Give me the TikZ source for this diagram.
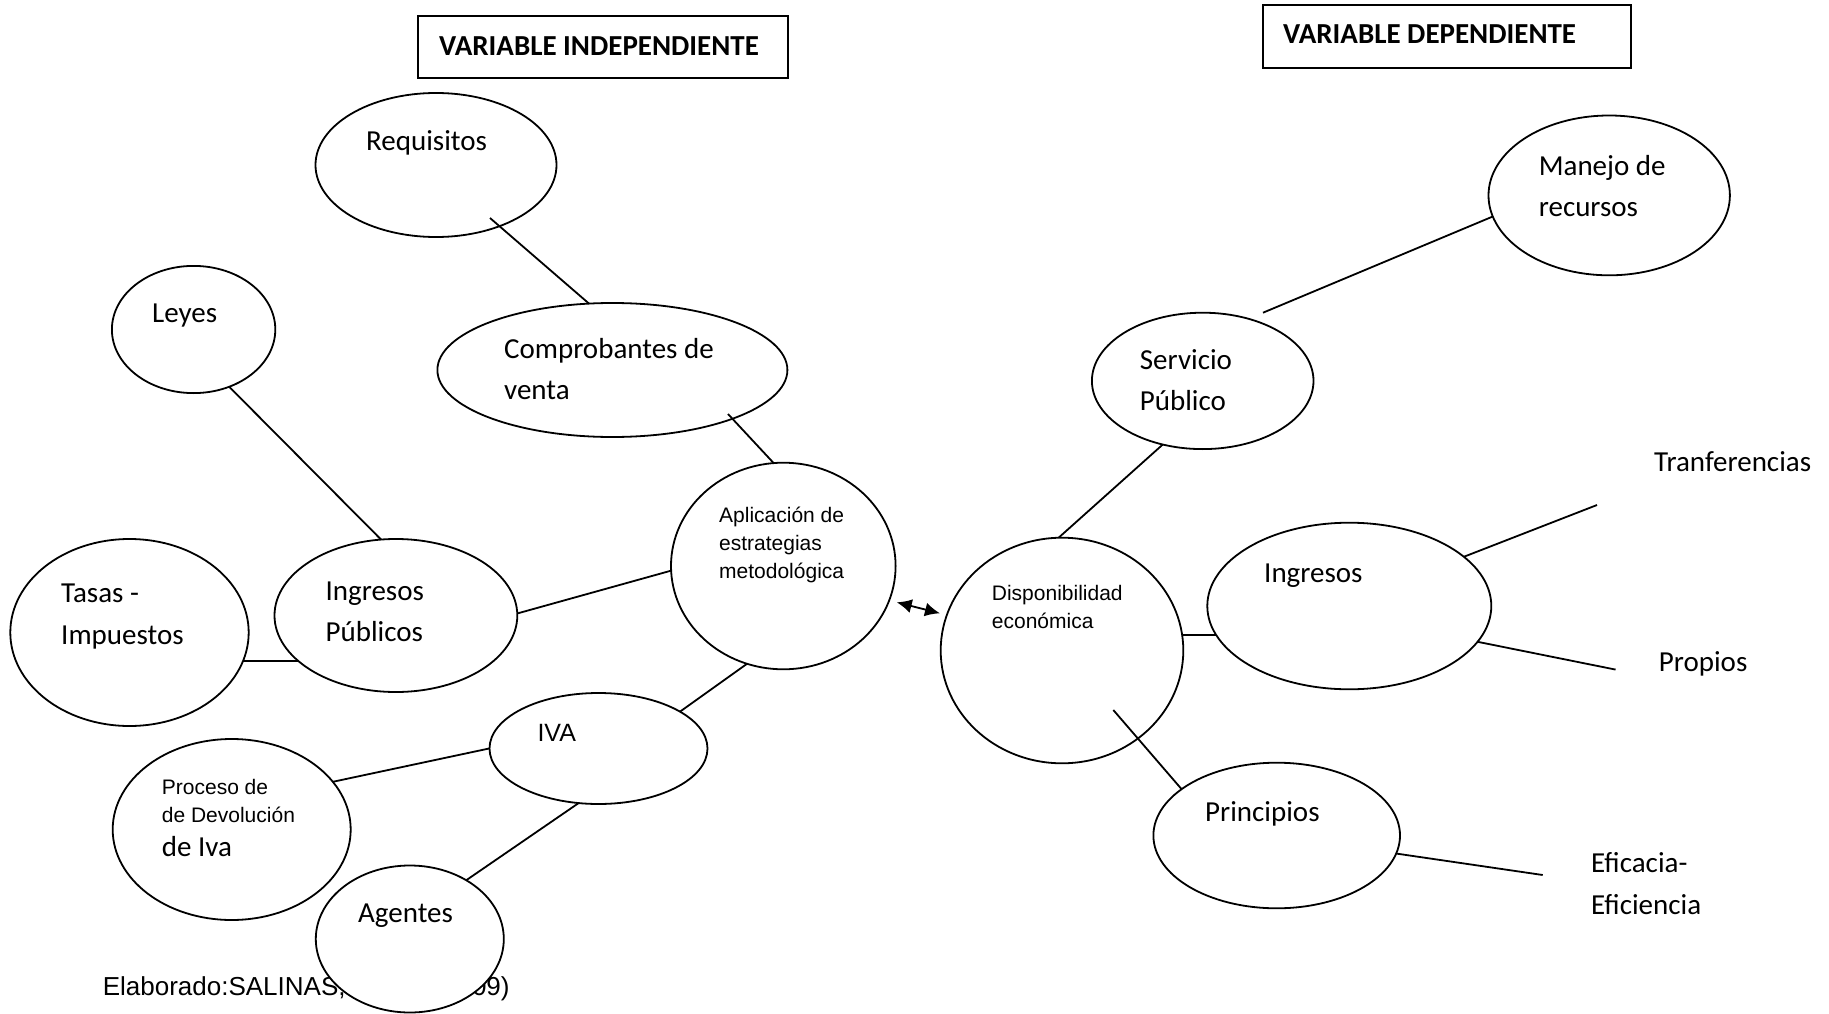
\documentclass[tikz,border=0pt]{standalone}
\usepackage{fontspec}
\setmainfont{Carlito}
\newfontfamily\arialf{Liberation Sans}
\usetikzlibrary{shapes.geometric,arrows.meta}

\begin{document}
\begin{tikzpicture}[x=1pt,y=-1pt,
  bubble/.style={draw, ellipse, fill=white, line width=1.8pt, inner sep=0pt},
  cal/.style={anchor=base west, inner sep=0pt, align=left, font=\fontsize{29}{41.5}\selectfont},
  ari/.style={anchor=base west, inner sep=0pt, align=left, font=\arialf\fontsize{21}{28}\selectfont},
  link/.style={line width=1.8pt},
  behind/.style={link, shorten <=-12pt, shorten >=-12pt},
  tail/.style={link, shorten <=-15pt},
  titlebox/.style={draw, line width=1.6pt, inner sep=0pt},
  titletext/.style={anchor=base west, inner sep=0pt, font=\bfseries\fontsize{29}{35}\selectfont},
]
\useasboundingbox (0,0) rectangle (1829,1014);

% source note, partly hidden by the "Agentes" bubble
\node[ari, font=\arialf\fontsize{26}{30}\selectfont] (srcA) at (102.6,995) {Elaborado:SALINAS,};
\node[anchor=base east, inner sep=0pt, font=\arialf\fontsize{26}{30}\selectfont] (srcB) at (509.8,995) {09)};

% connector end points
\coordinate (l1a) at (232,389.6);   \coordinate (l1b) at (380.5,539);
\coordinate (l2a) at (516.8,613.6); \coordinate (l2b) at (672,570.4);
\coordinate (l3a) at (248.6,661);   \coordinate (l3b) at (299.6,661);
\coordinate (l4a) at (739.3,669.3); \coordinate (l4b) at (683.3,709.3);
\coordinate (l5a) at (490,748.3);   \coordinate (l5b) at (333.3,781.7);
\coordinate (l6a) at (578.3,803.3); \coordinate (l6b) at (472.4,876);
\coordinate (l7a) at (1488.5,218.3);\coordinate (l7b) at (1263,312.7);
\coordinate (l8a) at (1160,447);    \coordinate (l8b) at (1058.3,538);
\coordinate (l9a) at (1182.7,635);  \coordinate (l9b) at (1208.3,635);
\coordinate (t1a) at (1471,554);    \coordinate (t1b) at (1597,505);
\coordinate (t2a) at (1488.5,644);  \coordinate (t2b) at (1615.6,669.6);
\coordinate (t3a) at (1399.3,854);  \coordinate (t3b) at (1542.7,875);
\coordinate (f1a) at (490,218);     \coordinate (f1b) at (589,303.6);
\coordinate (f2a) at (728,414);     \coordinate (f2b) at (773.3,462.7);
\coordinate (f3a) at (1113.3,710);  \coordinate (f3b) at (1181.7,789.3);
\coordinate (arrA) at (896.7,602.3);\coordinate (arrB) at (940,613.3);

% connectors that meet the bubble outlines
\draw[behind] (l1a) -- (l1b);
\draw[behind] (l2a) -- (l2b);
\draw[behind] (l3a) -- (l3b);
\draw[behind] (l4a) -- (l4b);
\draw[behind] (l5a) -- (l5b);
\draw[behind] (l6a) -- (l6b);
\draw[tail] (l7a) -- (l7b);
\draw[behind] (l8a) -- (l8b);
\draw[behind] (l9a) -- (l9b);
\draw[tail] (t1a) -- (t1b);
\draw[tail] (t2a) -- (t2b);
\draw[tail] (t3a) -- (t3b);

% bubbles
\node[bubble, minimum width=241pt, minimum height=144pt] (req) at (436,165) {};
\node[bubble, minimum width=163.4pt, minimum height=127.2pt] (leyes) at (193.6,329.5) {};
\node[bubble, minimum width=350pt, minimum height=134pt] (comp) at (612.4,370) {};
\node[bubble, minimum width=224.6pt, minimum height=206.6pt] (aplic) at (783.3,566) {};
\node[bubble, minimum width=242.8pt, minimum height=153pt] (ingpub) at (395.9,615.5) {};
\node[bubble, minimum width=238.4pt, minimum height=187pt] (tasas) at (129.5,632.5) {};
\node[bubble, minimum width=218pt, minimum height=111pt] (iva) at (598.5,748.5) {};
\node[bubble, minimum width=238pt, minimum height=181pt] (proc) at (231.7,829.5) {};
\node[bubble, minimum width=188pt, minimum height=147pt] (agentes) at (409.8,939) {};
\node[bubble, minimum width=241.4pt, minimum height=159.8pt] (manejo) at (1609.2,195.4) {};
\node[bubble, minimum width=221.6pt, minimum height=136.4pt] (serv) at (1202.7,380.9) {};
\node[bubble, minimum width=242.6pt, minimum height=225.6pt] (disp) at (1062,650.5) {};
\node[bubble, minimum width=284pt, minimum height=166.6pt] (ingr) at (1349.3,606) {};
\node[bubble, minimum width=246.6pt, minimum height=145.6pt] (princ) at (1276.7,835.5) {};

% connectors drawn over the bubbles
\draw[link] (f1a) -- (f1b);
\draw[link] (f2a) -- (f2b);
\draw[link] (f3a) -- (f3b);
\draw[link, {Latex[length=15pt,width=14pt]}-{Latex[length=15pt,width=14pt]}] (arrA) -- (arrB);

% bubble texts (multi-line nodes sit on the baseline of their last line)
\node[cal] (reqT) at (366,150.5) {Requisitos};
\node[cal] (leyesT) at (152,322) {Leyes};
\node[cal] (compT) at (504,399.8) {Comprobantes de\\venta};
\node[ari] (aplicT) at (719,578.5) {Aplicación de\\estrategias\\metodológica};
\node[cal] (ingpubT) at (325.4,641.5) {Ingresos\\Públicos};
\node[cal] (tasasT) at (61,644) {Tasas -\\Impuestos};
\node[ari, font=\arialf\fontsize{25}{30}\selectfont] (ivaT) at (537.3,741.7) {IVA};
\node[ari] (procT) at (161.7,822) {Proceso de\\de Devolución};
\node[cal] (procT2) at (161.7,856.7) {de Iva};
\node[cal] (agentesT) at (358,922.5) {Agentes};
\node[cal] (manejoT) at (1538.6,216.5) {Manejo de\\recursos};
\node[cal] (servT) at (1139.7,410.5) {Servicio\\Público};
\node[ari] (dispT) at (991.7,628) {Disponibilidad\\económica};
\node[cal] (ingrT) at (1264,582.5) {Ingresos};
\node[cal] (princT) at (1205,821) {Principios};

% free labels
\node[cal] (tranf) at (1654,471.5) {Tranferencias};
\node[cal] (propios) at (1658.7,671) {Propios};
\node[cal] (efic) at (1591,914) {Eficacia-\\Eficiencia};

% headings
\node[titlebox, minimum width=370pt, minimum height=62pt] (indepBox) at (603,47) {};
\node[titletext] (indepT) at (439,55.5) {VARIABLE INDEPENDIENTE};
\node[titlebox, minimum width=368pt, minimum height=63pt] (depBox) at (1447,36.5) {};
\node[titletext] (depT) at (1283,43.5) {VARIABLE DEPENDIENTE};
\end{tikzpicture}
\end{document}
